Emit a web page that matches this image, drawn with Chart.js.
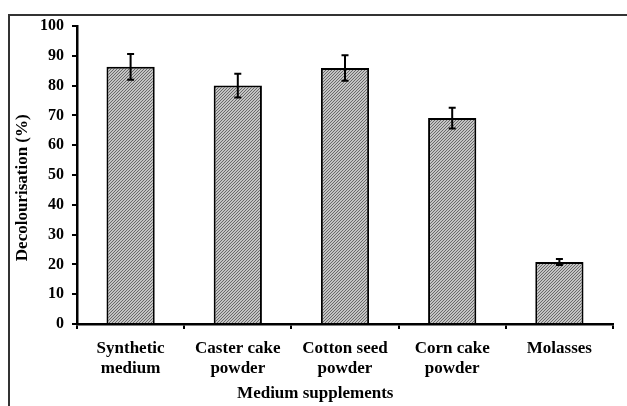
<!DOCTYPE html>
<html>
<head>
<meta charset="utf-8">
<script src="https://cdn.jsdelivr.net/npm/chart.js@4"></script>
<style>
  html, body { margin: 0; padding: 0; background: #fff; }
  #wrap { position: absolute; left: 0; top: 0; width: 627px; height: 406px; }
</style>
</head>
<body>
<div id="wrap"><canvas id="decolChart" width="627" height="406"></canvas></div>
<script>
// Data
var supplements = [
    ['Synthetic', 'medium'],
    ['Caster cake', 'powder'],
    ['Cotton seed', 'powder'],
    ['Corn cake', 'powder'],
    ['Molasses']
];
var decolourisation = [86.3, 80.0, 85.9, 69.1, 20.8];
var errors = [4.3, 4.0, 4.3, 3.5, 1.0];
var yTicks = [0, 10, 20, 30, 40, 50, 60, 70, 80, 90, 100];

var serif = '"Liberation Serif", "Times New Roman", serif';

// hatched grey fill like the original bars
function makeHatch() {
    var c = document.createElement('canvas');
    c.width = 3; c.height = 3;
    var g = c.getContext('2d');
    g.fillStyle = '#c4c4c4';
    g.fillRect(0, 0, 3, 3);
    g.fillStyle = '#6a6a6a';
    for (var i = 0; i < 3; i++) {
        g.fillRect(i, 2 - i, 1, 1);
    }
    return g.createPattern(c, 'repeat');
}

// error bars drawn from the dataset through the chart scales
var errorBars = {
    id: 'errorBars',
    afterDatasetsDraw: function (chart) {
        var ctx = chart.ctx;
        var y = chart.scales.y;
        var meta = chart.getDatasetMeta(0);
        ctx.save();
        ctx.strokeStyle = '#000';
        ctx.lineWidth = 2;
        meta.data.forEach(function (bar, i) {
            var v = decolourisation[i], e = errors[i];
            var top = y.getPixelForValue(v + e);
            var bot = y.getPixelForValue(v - e);
            var x = bar.x;
            ctx.beginPath();
            ctx.moveTo(x, top); ctx.lineTo(x, bot);
            ctx.moveTo(x - 3.5, top); ctx.lineTo(x + 3.5, top);
            ctx.moveTo(x - 3.5, bot); ctx.lineTo(x + 3.5, bot);
            ctx.stroke();
        });
        ctx.restore();
    }
};

// frame around the figure (top and left edges are visible)
var frame = {
    id: 'frame',
    afterDraw: function (chart) {
        var ctx = chart.ctx;
        ctx.save();
        ctx.strokeStyle = '#333';
        ctx.lineWidth = 2;
        ctx.beginPath();
        ctx.moveTo(9, 406);
        ctx.lineTo(9, 15);
        ctx.lineTo(627, 15);
        ctx.stroke();
        ctx.restore();
    }
};

var nb = '\u00a0';

var ctx = document.getElementById('decolChart').getContext('2d');
new Chart(ctx, {
    type: 'bar',
    data: {
        labels: supplements,
        datasets: [{
            data: decolourisation,
            backgroundColor: makeHatch(),
            borderColor: '#000',
            borderWidth: 2,
            borderSkipped: 'bottom',
            categoryPercentage: 1,
            barPercentage: 0.45
        }]
    },
    options: {
        responsive: false,
        animation: false,
        layout: { padding: { left: 0, right: 14, top: 26, bottom: 0 } },
        plugins: {
            legend: { display: false },
            tooltip: { enabled: false }
        },
        scales: {
            x: {
                afterFit: function (s) { s.height = 82; },
                border: { color: '#000', width: 2.5 },
                grid: {
                    offset: true,
                    drawOnChartArea: false,
                    tickLength: 5,
                    color: '#000',
                    lineWidth: 2
                },
                ticks: {
                    color: '#000',
                    padding: 10,
                    maxRotation: 0,
                    font: { family: serif, size: 17, weight: 'bold', lineHeight: 1.15 }
                },
                title: {
                    display: true,
                    // trailing spaces shift the title left as in the original
                    text: 'Medium supplements' + nb.repeat(14),
                    color: '#000',
                    padding: { top: 0, bottom: 2 },
                    font: { family: serif, size: 17, weight: 'bold' }
                }
            },
            y: {
                min: 0,
                max: 100,
                afterFit: function (s) { s.width = 77; },
                afterBuildTicks: function (s) {
                    s.ticks = yTicks.map(function (v) { return { value: v }; });
                },
                border: { color: '#000', width: 2.5 },
                grid: {
                    drawOnChartArea: false,
                    tickLength: 5,
                    color: '#000',
                    lineWidth: 2
                },
                ticks: {
                    color: '#000',
                    padding: 8,
                    font: { family: serif, size: 16, weight: 'bold' }
                },
                title: {
                    display: true,
                    // trailing spaces nudge the title down as in the original
                    text: 'Decolourisation (%)' + nb.repeat(6),
                    color: '#000',
                    padding: { top: 12, bottom: 0 },
                    font: { family: serif, size: 17, weight: 'bold' }
                }
            }
        }
    },
    plugins: [errorBars, frame]
});
</script>
</body>
</html>
